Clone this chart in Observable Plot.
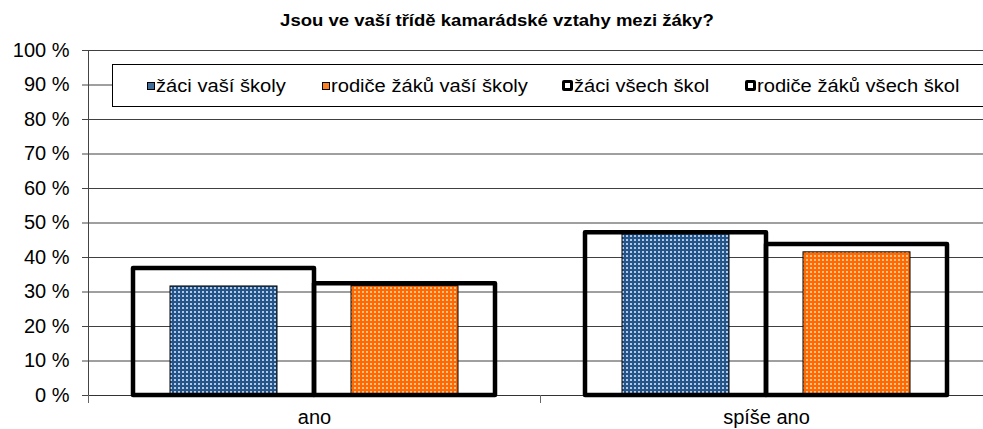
<!DOCTYPE html>
<html>
<head>
<meta charset="utf-8">
<script src="https://cdn.jsdelivr.net/npm/d3@7"></script>
<script src="https://cdn.jsdelivr.net/npm/@observablehq/plot@0.6"></script>
<style>
  html, body { margin: 0; padding: 0; background: #fff; overflow: hidden; }
  #wrap { position: relative; width: 983px; height: 429px; overflow: hidden; font-family: "Liberation Sans", Arial, sans-serif; color: #000; }
  #title { position: absolute; left: 0; top: 6px; width: 993px; height: 30px; line-height: 30px; text-align: center; font-weight: bold; font-size: 17px; }
  #title span { display: inline-block; transform: scaleX(1.09); transform-origin: center; }
  #chart { position: absolute; left: 0; top: 30px; width: 992px; }
  #chart svg { max-width: none !important; }
  #legend { position: absolute; left: 112px; top: 64px; width: 900px; height: 43px; box-sizing: border-box; border: 1px solid #000; background: #fff; }
  .lt { position: absolute; top: 11.2px; line-height: 20px; font-size: 17.5px; white-space: nowrap; transform: scaleX(1.15); transform-origin: left center; }
  .mk { position: absolute; box-sizing: border-box; }
  .mk.blue { top: 16.5px; width: 8px; height: 8px; border: 1px solid #000; background-color: #1f4f82; background-image: radial-gradient(circle, #8fb0d4 0.5px, transparent 0.8px); background-size: 2px 2px; }
  .mk.orange { top: 16.5px; width: 8px; height: 8px; border: 1px solid #000; background-color: #ff6a00; background-image: radial-gradient(circle, #ffb070 0.5px, transparent 0.8px); background-size: 2px 2px; }
  .mk.outline { top: 15px; width: 11px; height: 11px; border: 3px solid #000; border-radius: 2px; background: #fff; }
</style>
</head>
<body>
<div id="wrap">
  <div id="title"><span>Jsou ve vaší třídě kamarádské vztahy mezi žáky?</span></div>
  <div id="chart"></div>
  <div id="legend"></div>
</div>
<script>
// ---- data ----
const categories = ["ano", "spíše ano"];
const pairs = ["žáci", "rodiče"];
const zaciVasiSkoly = [31.6, 46.8];
const rodiceVasiSkoly = [31.7, 41.5];
const zaciVsechSkol = [36.8, 47.2];
const rodiceVsechSkol = [32.4, 43.8];
const yTicks = [0, 10, 20, 30, 40, 50, 60, 70, 80, 90, 100];
const seriesNames = ["žáci vaší školy", "rodiče žáků vaší školy", "žáci všech škol", "rodiče žáků všech škol"];

const rowsFor = (values, pair) => categories.map((c, i) => ({category: c, pair, value: values[i]}));
const zaciVasiRows = rowsFor(zaciVasiSkoly, "žáci");
const rodiceVasiRows = rowsFor(rodiceVasiSkoly, "rodiče");
const vsechRows = rowsFor(zaciVsechSkol, "žáci").concat(rowsFor(rodiceVsechSkol, "rodiče"));

// ---- layout ----
const W = 992, H = 399, MT = 20, MB = 34, ML = 87;
const plotH = H - MT - MB;

const chart = Plot.plot({
  width: W,
  height: H,
  marginTop: MT,
  marginBottom: MB,
  marginLeft: ML,
  marginRight: 0,
  style: {fontFamily: "'Liberation Sans', Arial, sans-serif", fontSize: "20px", color: "#000", background: "#fff", overflow: "visible", maxWidth: "none"},
  fx: {domain: categories, padding: 0, label: null},
  x: {domain: pairs, paddingInner: 0, paddingOuter: 0.245, axis: null},
  y: {domain: [0, 100], label: null},
  marks: [
    Plot.ruleY(yTicks.filter(d => d > 0), {stroke: "#000", strokeOpacity: 0.75}),
    Plot.barY(zaciVasiRows, {fx: "category", x: "pair", y: "value", fill: "url(#dotsBlue)", stroke: "#000", strokeWidth: 1, insetLeft: 37, insetRight: 37}),
    Plot.barY(rodiceVasiRows, {fx: "category", x: "pair", y: "value", fill: "url(#dotsOrange)", stroke: "#000", strokeWidth: 1, insetLeft: 37, insetRight: 37}),
    Plot.ruleY([0], {stroke: "#333"}),
    Plot.barY(vsechRows, {fx: "category", x: "pair", y: "value", fill: "none", stroke: "#000", strokeWidth: 4.5, strokeLinejoin: "round"}),
    Plot.frame({anchor: "left", facetAnchor: "left", stroke: "#444"}),
    Plot.frame({anchor: "left", insetTop: plotH, insetBottom: -7, stroke: "#666"}),
    Plot.axisY({ticks: yTicks, tickFormat: d => `${d} %`, tickSize: 6, tickPadding: 13, label: null, fontSize: 20, stroke: "#444"}),
    Plot.axisFx({anchor: "bottom", tickSize: 0, tickPadding: 14, label: null, fontSize: 20})
  ]
});

// dot-texture patterns for the filled bars
const svg = d3.select(chart.tagName.toLowerCase() === "svg" ? chart : chart.querySelector("svg"));
const defs = svg.insert("defs", ":first-child");
function pattern(id, base, dot) {
  const p = defs.append("pattern").attr("id", id).attr("width", 4).attr("height", 4).attr("patternUnits", "userSpaceOnUse");
  p.append("rect").attr("width", 4).attr("height", 4).attr("fill", base);
  p.append("rect").attr("x", 1).attr("y", 1).attr("width", 2).attr("height", 2).attr("fill", dot);
}
pattern("dotsBlue", "#24558a", "#b4c9e0");
pattern("dotsOrange", "#ff6a00", "#ffc08f");

document.getElementById("chart").appendChild(chart);

// ---- legend ----
const legend = document.getElementById("legend");
const markerClass = ["blue", "orange", "outline", "outline"];
const markerLeft = [34, 209, 449, 632];
const textLeft = [43, 218, 461, 644];
seriesNames.forEach((name, i) => {
  const m = document.createElement("div");
  m.className = "mk " + markerClass[i];
  m.style.left = markerLeft[i] + "px";
  legend.appendChild(m);
  const t = document.createElement("div");
  t.className = "lt";
  t.style.left = textLeft[i] + "px";
  t.textContent = name;
  legend.appendChild(t);
});
</script>
</body>
</html>
